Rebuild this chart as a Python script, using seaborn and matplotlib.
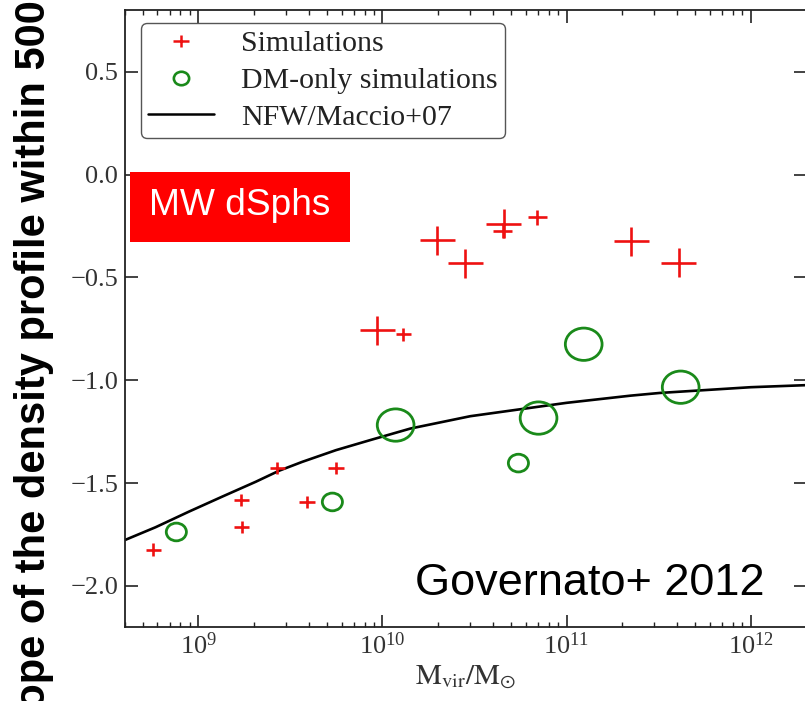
import numpy as np
import pandas as pd
import matplotlib
matplotlib.use("Agg")
import matplotlib.pyplot as plt
import seaborn as sns
from matplotlib.path import Path
from matplotlib.transforms import Affine2D
from matplotlib.lines import Line2D
from matplotlib.patches import Rectangle

# hydro simulations (red crosses)
sim_mass = [5.7e8, 1.71e9, 1.72e9, 2.68e9, 3.9e9, 5.6e9, 9.4e9, 1.3e10,
            1.99e10, 2.82e10, 4.55e10, 4.5e10, 6.95e10, 2.25e11, 4.06e11]
sim_slope = [-1.825, -1.583, -1.714, -1.427, -1.592, -1.427, -0.757, -0.777,
             -0.320, -0.432, -0.238, -0.272, -0.208, -0.325, -0.428]
sim_res = ['low', 'low', 'low', 'low', 'low', 'low', 'high', 'low',
           'high', 'high', 'high', 'mid', 'mid', 'high', 'high']

# dark matter only runs (green circles)
dm_mass = [7.6e8, 5.35e9, 1.18e10, 5.48e10, 7.05e10, 1.24e11, 4.17e11]
dm_slope = [-1.738, -1.592, -1.218, -1.403, -1.184, -0.825, -1.034]
dm_res = ['low', 'low', 'high', 'low', 'high', 'high', 'high']

# NFW / Maccio+07 curve
nfw_mass = [4.0e8, 5.86e8, 8.9e8, 1.35e9, 2.05e9, 2.75e9, 3.67e9, 5.6e9,
            8.6e9, 1.42e10, 3.0e10, 6.9e10, 1.0e11, 2.23e11, 3.2e11,
            1.0e12, 2.0e12]
nfw_slope = [-1.777, -1.715, -1.639, -1.566, -1.494, -1.440, -1.397, -1.34,
             -1.291, -1.235, -1.175, -1.130, -1.110, -1.075, -1.062,
             -1.034, -1.024]

sim = pd.DataFrame({'mass': sim_mass, 'slope': sim_slope, 'res': sim_res})
dm = pd.DataFrame({'mass': dm_mass, 'slope': dm_slope, 'res': dm_res})

sns.set_style('ticks')
plt.rcParams['font.family'] = ['Liberation Serif', 'DejaVu Serif']
plt.rcParams['mathtext.fontset'] = 'stix'
plt.rcParams['xtick.direction'] = 'in'
plt.rcParams['ytick.direction'] = 'in'
plt.rcParams['xtick.top'] = True
plt.rcParams['ytick.right'] = True

# the original figure is a bit stretched sideways, so are the markers
plus_mk = Path([(-0.5, 0), (0.5, 0), (0, -0.42), (0, 0.42)],
               [Path.MOVETO, Path.LINETO, Path.MOVETO, Path.LINETO])
ring_mk = Affine2D().scale(0.5, 0.44).transform_path(Path.unit_circle())

fig = plt.figure(figsize=(8.05, 7.01), dpi=100)
ax = fig.add_axes([0.1553, 0.1056, 0.846, 0.880])
ax.set_xscale('log')

sns.lineplot(x=nfw_mass, y=nfw_slope, color='black', lw=1.9, ax=ax,
             estimator=None, sort=False, legend=False)

sns.scatterplot(data=sim, x='mass', y='slope', size='res',
                sizes={'low': 120, 'mid': 180, 'high': 620},
                marker=plus_mk, color='#ee1111', facecolor='none',
                edgecolor='#ee1111', linewidth=1.9, ax=ax, legend=False, zorder=3)
sns.scatterplot(data=dm, x='mass', y='slope', size='res',
                sizes={'low': 210, 'high': 700},
                marker=ring_mk, color='#1a8a1a', facecolor='none',
                edgecolor='#1a8a1a', linewidth=2.0, ax=ax, legend=False, zorder=3)

ax.set_xlim(4.0e8, 2.0e12)
ax.set_ylim(-2.2, 0.8)
ax.set_yticks([0.5, 0.0, -0.5, -1.0, -1.5, -2.0])
ax.set_yticklabels(['0.5', '0.0', '\u22120.5', '\u22121.0', '\u22121.5', '\u22122.0'])
ax.tick_params(which='major', length=9, width=1.2, labelsize=19,
               labelcolor='#333333', color='#222222')
ax.tick_params(axis='x', which='major', pad=4)
ax.tick_params(axis='y', which='major', pad=5)
ax.tick_params(which='minor', length=3.5, width=1.0, color='#222222')
ax.tick_params(axis='y', which='minor', left=False, right=False)
for sp in ax.spines.values():
    sp.set_color('#222222')
    sp.set_linewidth(1.3)

ax.set_xlabel(r'$\mathrm{M_{vir}/M_{\odot}}$', fontsize=21, color='#333333', labelpad=3)
ax.set_ylabel('')

handles = [
    Line2D([], [], ls='none', marker=plus_mk, ms=11, mew=1.8, color='#ee1111'),
    Line2D([], [], ls='none', marker=ring_mk, ms=11, mew=1.9, color='#1a8a1a',
           mfc='none'),
    Line2D([], [], color='black', lw=1.8),
]
ax.legend(handles, ['Simulations', 'DM-only simulations', 'NFW/Maccio+07'],
          loc='upper left', bbox_to_anchor=(0.0235, 0.979), borderaxespad=0,
          fontsize=21.5, handlelength=2.2, handletextpad=0.9, labelspacing=0.33,
          borderpad=0.25, frameon=True, framealpha=1, edgecolor='#555555',
          fancybox=True)
leg = ax.get_legend()
for t in leg.get_texts():
    t.set_color('#222222')

# red label box
ax.add_patch(Rectangle((0.0074, 0.624), 0.3236, 0.1134, transform=ax.transAxes,
                       facecolor='#ff0000', edgecolor='none', zorder=4))
ax.text(0.168, 0.668, 'MW dSphs', transform=ax.transAxes, ha='center',
        va='baseline', fontsize=26.7, color='white', family='Liberation Sans',
        zorder=5)

ax.text(0.4265, 0.0519, 'Governato+ 2012', transform=ax.transAxes, ha='left',
        va='baseline', fontsize=32.5, color='black', family='Liberation Sans',
        zorder=5)

fig.text(45 / 805, 0.509, 'Slope of the density profile within 500 pc',
         rotation=90, rotation_mode='anchor', ha='center', va='baseline',
         fontsize=30, fontweight='bold', family='Liberation Sans', color='black')

fig.savefig('out.png', dpi=100)
